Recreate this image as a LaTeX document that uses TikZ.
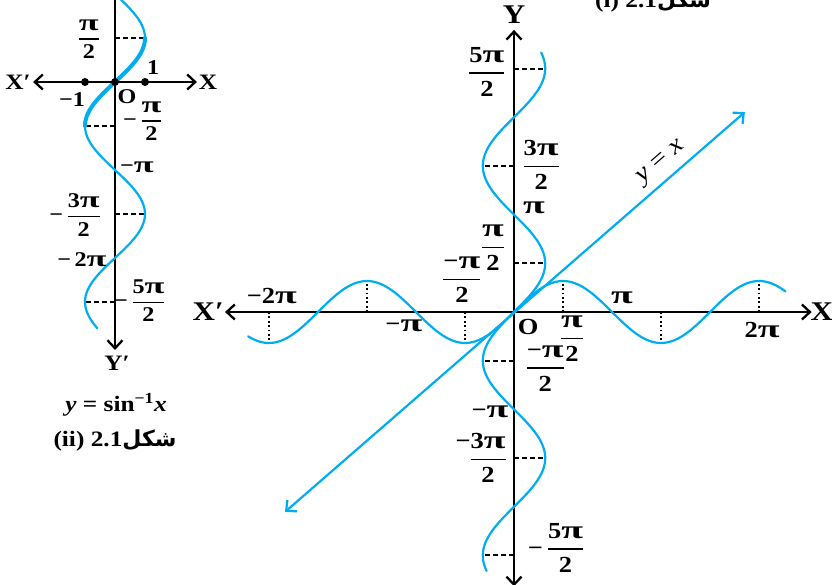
\documentclass[tikz,border=0pt]{standalone}
\usepackage{amsmath}
\usepackage{fontspec}
\setmainfont{Liberation Serif}[FakeStretch=1.15]
\newfontfamily\arabicfont[Script=Arabic]{DejaVu Sans}
\TeXXeTstate=1
\usetikzlibrary{arrows.meta,calc}
\definecolor{skyblue}{RGB}{0,174,239}
\newcommand\wpi{\scalebox{1.5}[1.1]{π}}
\newcommand\pfrac[2]{$\genfrac{}{}{1.5pt}{0}{\text{#1}}{\text{#2}}$}

\begin{document}
\begin{tikzpicture}[x=1pt, y=1pt, line join=round, line cap=round,
	>={Straight Barb[length=8pt,width=15pt]},
	axis/.style={line width=2.3pt},
	curve/.style={skyblue, line width=2.2pt},
	dashline/.style={line width=2pt, dash pattern=on 5pt off 3pt, line cap=butt},
	dotline/.style={line width=1.8pt, dash pattern=on 1.8pt off 2.6pt, line cap=butt},
	lbl/.style={font=\bfseries\fontsize{23}{26}\selectfont, inner sep=0pt},
	slbl/.style={font=\bfseries\fontsize{21}{24}\selectfont, inner sep=0pt},
	axlbl/.style={font=\bfseries\fontsize{27}{30}\selectfont, inner sep=0pt},
	figcap/.style={font=\bfseries\fontsize{22}{25}\selectfont, inner sep=0pt}]
	\useasboundingbox (0,0) rectangle (832,584);
	% y = sin^{-1} x
	\begin{scope}[shift={(115,502)}, x=30pt, y=28pt]
		\foreach \x/\y/\t in {-2.73/0/sXl,2.73/0/sXr,0/3.4/sYt,0/-9.57/sYb,-1/0/sA,0/0/sO,1/0/sB}
		\coordinate (\t) at (\x,\y);
		\foreach \k in {-5,-3,-1,1}
		\draw[dashline] (0,\k*pi/2) -- ({sin(\k*90)},\k*pi/2);
		\draw[axis,<->] (sXl) -- (sXr);
		\draw[axis,->] (sYt) -- (sYb);
		\draw[curve] plot[domain=-8.79:3.4,samples=150,smooth] ({sin(\x r)},\x);
		\draw[curve,line width=4pt] plot[domain=-1.5708:1.5708,samples=40,smooth] ({sin(\x r)},\x);
		\foreach \t in {sA,sO,sB}
		\fill (\t) circle(4pt);
		\node[axlbl,font=\bfseries\fontsize{22}{24}\selectfont] (sXp) at (-3.23,0) {X′};
		\node[axlbl,font=\bfseries\fontsize{22}{24}\selectfont] (sX) at (3.1,0) {X};
		\node[axlbl,font=\bfseries\fontsize{22}{24}\selectfont] (sYp) at (0.07,-10.04) {Y′};
		\foreach \x/\y/\n/\t in {-1.43/-0.64/m1/−1, 0.4/-0.54/m2/O, 1.27/0.5/m3/1,
			-0.87/1.54/m4/{\pfrac{\wpi}{2}}, 0.93/-1.39/m5/{−\,\pfrac{\wpi}{2}},
			0.73/-3.04/m6/−\wpi, -1.33/-4.75/m7/{−\,\pfrac{3\wpi}{2}},
			-1.1/-6.36/m8/−\,2\wpi, 0.83/-7.82/m9/{−\,\pfrac{5\wpi}{2}}}
		\node[slbl] (\n) at (\x,\y) {\t};
	\end{scope}
	\node[figcap] (cap1) at (116,179) {\textit{y} = sin\textsuperscript{−1}\textit{x}};
	\node[figcap] (cap2) at (115,144) {(ii) 2.1{\arabicfont\beginR شکل\endR}};
	\node[figcap,anchor=base west] (cap0) at (595,576.5) {(i) 2.1{\arabicfont\beginR شکل\endR}};
	% y = sin x, y = x
	\begin{scope}[shift={(514,272)}, x=31.2pt, y=31pt]
		\foreach \x/\y/\t in {-9.26/0/Xl,9.54/0/Xr,0/9.1/Yt,0/-8.85/Yb,0/0/O,-7.34/-6.45/Ll,7.40/6.45/Lr}
		\coordinate (\t) at (\x,\y);
		\foreach \k in {-5,-3,-1,1,3,5}{
			\draw[dashline] (0,\k*pi/2) -- ({sin(\k*90)},\k*pi/2);
			\draw[dotline] (\k*pi/2,0) -- (\k*pi/2,{sin(\k*90)});
		}
		\draw[axis,<->] (Xl) -- (Xr);
		\draw[axis,<->] (Yb) -- (Yt);
		\draw[curve] plot[domain=-8.52:8.7,samples=200,smooth] (\x,{sin(\x r)});
		\draw[curve] plot[domain=-8.35:8.37,samples=200,smooth] ({sin(\x r)},\x);
		\draw[curve,<->] (Ll) -- (Lr);
		\node[axlbl] (nXp) at (-9.8,0) {X′};
		\node[axlbl] (nX) at (9.87,0) {X};
		\node[axlbl] (nY) at (0,9.58) {Y};
		\node[font=\fontsize{25}{27}\selectfont, rotate=41, inner sep=0pt] (nyx) at (4.74,4.81) {\textit{y} = \textit{x}};
		\foreach \x/\y/\n/\t in {-0.87/7.74/l1/{\pfrac{5\wpi}{2}}, 0.87/4.74/l2/{\pfrac{3\wpi}{2}},
			0.64/3.35/l3/\wpi, -0.67/2.06/l4/{\pfrac{\wpi}{2}}, -1.67/1.03/l5/{\pfrac{−\wpi}{2}},
			-7.76/0.52/l6/−2\wpi, -3.53/-0.45/l7/−\wpi, 0.45/-0.48/l8/O,
			1.86/-0.87/l9/{\pfrac{\wpi}{2}}, 1.0/-1.82/l10/{\pfrac{−\wpi}{2}},
			3.46/0.45/l11/\wpi, 7.95/-0.58/l12/2\wpi, -0.77/-3.23/l13/−\wpi,
			-0.83/-4.71/l14/{\pfrac{\llap{−}3\wpi}{2}}, 1.35/-7.6/l15/{−\,\pfrac{5\wpi}{2}}}
		\node[lbl] (\n) at (\x,\y) {\t};
	\end{scope}
\end{tikzpicture}
\end{document}
